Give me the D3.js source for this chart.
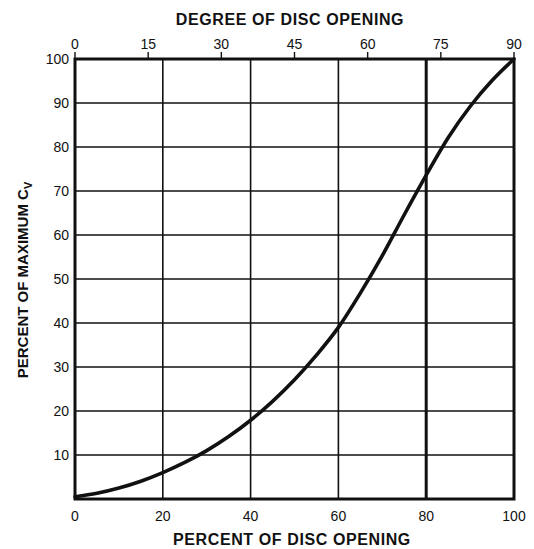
<!DOCTYPE html>
<html>
<head>
<meta charset="utf-8">
<script src="https://cdn.jsdelivr.net/npm/d3@7"></script>
<style>
  html, body { margin: 0; padding: 0; background: #fff; }
  svg { display: block; }
  text { font-family: "Liberation Sans", Arial, sans-serif; fill: #111; }
</style>
</head>
<body>
<svg id="chart" width="534" height="549"></svg>
<script>
// Flow characteristic of a butterfly (disc) valve
const percentOpen = [0, 5, 10, 15, 20, 25, 30, 35, 40, 45, 50, 55, 60, 65, 70, 75, 80, 85, 90, 95, 100];
const percentCv   = [0.5, 1.3, 2.5, 4.05, 6, 8.3, 11, 14.2, 17.9, 22.2, 27.1, 32.7, 39, 46.8, 55.3, 64.6, 73.6, 82.1, 89.2, 95.1, 100];

const bottomTicks = [0, 20, 40, 60, 80, 100];
const leftTicks   = [10, 20, 30, 40, 50, 60, 70, 80, 90, 100];
const degreeTicks = [0, 15, 30, 45, 60, 75, 90];

const svg = d3.select("#chart");
const L = 75, R = 514, T = 59, B = 499;

const x = d3.scaleLinear().domain([0, 100]).range([L, R]);
const xDeg = d3.scaleLinear().domain([0, 90]).range([L, R]);
const y = d3.scaleLinear().domain([0, 100]).range([B, T]);

// grid
const grid = svg.append("g").attr("stroke", "#111");
grid.selectAll("line.h").data(leftTicks.filter(d => d < 100)).join("line")
  .attr("x1", L).attr("x2", R).attr("y1", d => y(d)).attr("y2", d => y(d))
  .attr("stroke-width", 1.6);
grid.selectAll("line.v").data(bottomTicks.filter(d => d > 0 && d < 100)).join("line")
  .attr("y1", T).attr("y2", B).attr("x1", d => x(d)).attr("x2", d => x(d))
  .attr("stroke-width", d => d === 80 ? 3 : 1.6);

// frame
svg.append("rect").attr("x", L).attr("y", T).attr("width", R - L).attr("height", B - T)
  .attr("fill", "none").attr("stroke", "#111").attr("stroke-width", 3);

// bottom axis labels
svg.append("g").selectAll("text").data(bottomTicks).join("text")
  .attr("x", d => x(d)).attr("y", 521).attr("text-anchor", "middle")
  .attr("font-size", 14).text(d => d);

// left axis labels
svg.append("g").selectAll("text").data(leftTicks).join("text")
  .attr("x", 69).attr("y", d => y(d) + 5).attr("text-anchor", "end")
  .attr("font-size", 14).text(d => d);

// top (degree) axis
const degAxis = svg.append("g");
degAxis.selectAll("line").data(degreeTicks).join("line")
  .attr("x1", d => xDeg(d)).attr("x2", d => xDeg(d)).attr("y1", T).attr("y2", T - 7)
  .attr("stroke", "#111").attr("stroke-width", 1.4);
degAxis.selectAll("text").data(degreeTicks).join("text")
  .attr("x", d => xDeg(d)).attr("y", 49).attr("text-anchor", "middle")
  .attr("font-size", 14).text(d => d);

// titles
svg.append("text").attr("x", 290).attr("y", 25).attr("text-anchor", "middle")
  .attr("font-size", 16).attr("font-weight", "bold").attr("letter-spacing", 0.6)
  .text("DEGREE OF DISC OPENING");
svg.append("text").attr("x", 292).attr("y", 545).attr("text-anchor", "middle")
  .attr("font-size", 16).attr("font-weight", "bold").attr("letter-spacing", 0.6)
  .text("PERCENT OF DISC OPENING");
const yt = svg.append("text").attr("transform", "translate(28,280) rotate(-90)")
  .attr("text-anchor", "middle").attr("font-size", 15).attr("font-weight", "bold");
yt.append("tspan").text("PERCENT OF MAXIMUM C");
yt.append("tspan").attr("font-size", 11).attr("dy", 4).text("V");

// curve
const pts = percentOpen.map((p, i) => [p, percentCv[i]]);
svg.append("path").datum(pts)
  .attr("fill", "none").attr("stroke", "#111").attr("stroke-width", 3.6)
  .attr("stroke-linecap", "round")
  .attr("d", d3.line().x(d => x(d[0])).y(d => y(d[1])).curve(d3.curveMonotoneX));
</script>
</body>
</html>
